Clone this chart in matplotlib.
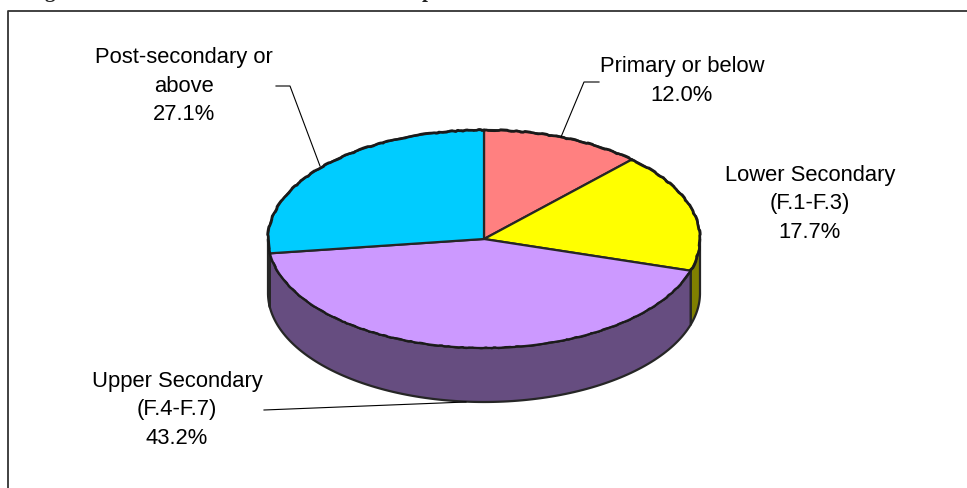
import numpy as np
import matplotlib
matplotlib.use("Agg")
import matplotlib.pyplot as plt
from matplotlib.patches import Polygon

categories = ["Primary or below", "Lower Secondary\n(F.1-F.3)", "Upper Secondary\n(F.4-F.7)", "Post-secondary or\nabove"]
shares = [12.0, 17.7, 43.2, 27.1]
top_colors = ["#FF8080", "#FFFF00", "#CC99FF", "#00CCFF"]
side_colors = ["#804040", "#808000", "#664D80", "#006680"]
rim_widths = [1.9, 1.9, 1.3, 1.9]

# pie geometry in image pixels
CX, CY = 484, 240
RX, RY = 216, 109
DEPTH = 54
EDGE = "#262626"

label_pos = [(682, 81), (810, 204), (177, 410), (184, 86)]
leaders = [
    [(599, 83), (584, 83), (561, 138)],
    None,
    [(264, 411), (466, 403)],
    [(276, 87), (290, 87), (320, 167)],
]


def rim(a0, a1, n=120):
    # angles are clockwise from 12 o'clock, in degrees
    t = np.radians(np.linspace(a0, a1, n))
    return np.column_stack([CX + RX * np.sin(t), CY - RY * np.cos(t)])


fig = plt.figure(figsize=(9.67, 4.89), dpi=100)
ax = fig.add_axes([0, 0, 1, 1])
ax.set_xlim(0, 967)
ax.set_ylim(489, 0)
ax.axis("off")

plt.rcParams["font.family"] = ["Liberation Sans", "DejaVu Sans"]

# frame, open on the right and at the bottom
ax.plot([8, 8, 967], [489, 11.5, 11.5], color="#333333", lw=1.3, solid_capstyle="butt")

# the rest of the title is cut off by the picture edge
ax.text(50, -3.5, "g", family="Liberation Serif", weight="bold", fontsize=15, ha="center", va="baseline", color="#222222", clip_on=False)
ax.text(428, -3.5, "p", family="Liberation Serif", weight="bold", fontsize=15, ha="center", va="baseline", color="#222222", clip_on=False)

edges = np.cumsum([0] + shares) / sum(shares) * 360

# side walls, only the front half of the rim can be seen
for i in range(len(shares)):
    a0, a1 = max(edges[i], 90), min(edges[i + 1], 270)
    if a1 <= a0:
        continue
    arc = rim(a0, a1)
    wall = np.vstack([arc, arc[::-1] + [0, DEPTH]])
    ax.add_patch(Polygon(wall, closed=True, fc=side_colors[i], ec=EDGE, lw=1.6, joinstyle="round"))

# top faces, radial edges stay straight and the rim gets the bumpy look of the original
for i in range(len(shares)):
    arc = rim(edges[i], edges[i + 1])
    ax.add_patch(Polygon(np.vstack([[CX, CY], arc]), closed=True, fc=top_colors[i], ec=EDGE, lw=1.6, joinstyle="round"))
    bump, = ax.plot(arc[:, 0], arc[:, 1], color="#1a1a1a", lw=rim_widths[i])
    bump.set_sketch_params(scale=0.6, length=30, randomness=12)

for line in leaders:
    if line is not None:
        xs, ys = zip(*line)
        ax.plot(xs, ys, color="black", lw=0.8)

for name, val, (x, y) in zip(categories, shares, label_pos):
    ax.text(x, y, f"{name}\n{val:.1f}%", ha="center", va="center", fontsize=15.8,
            linespacing=1.5, color="black", family="Liberation Sans")

fig.savefig("out.png", dpi=100)
